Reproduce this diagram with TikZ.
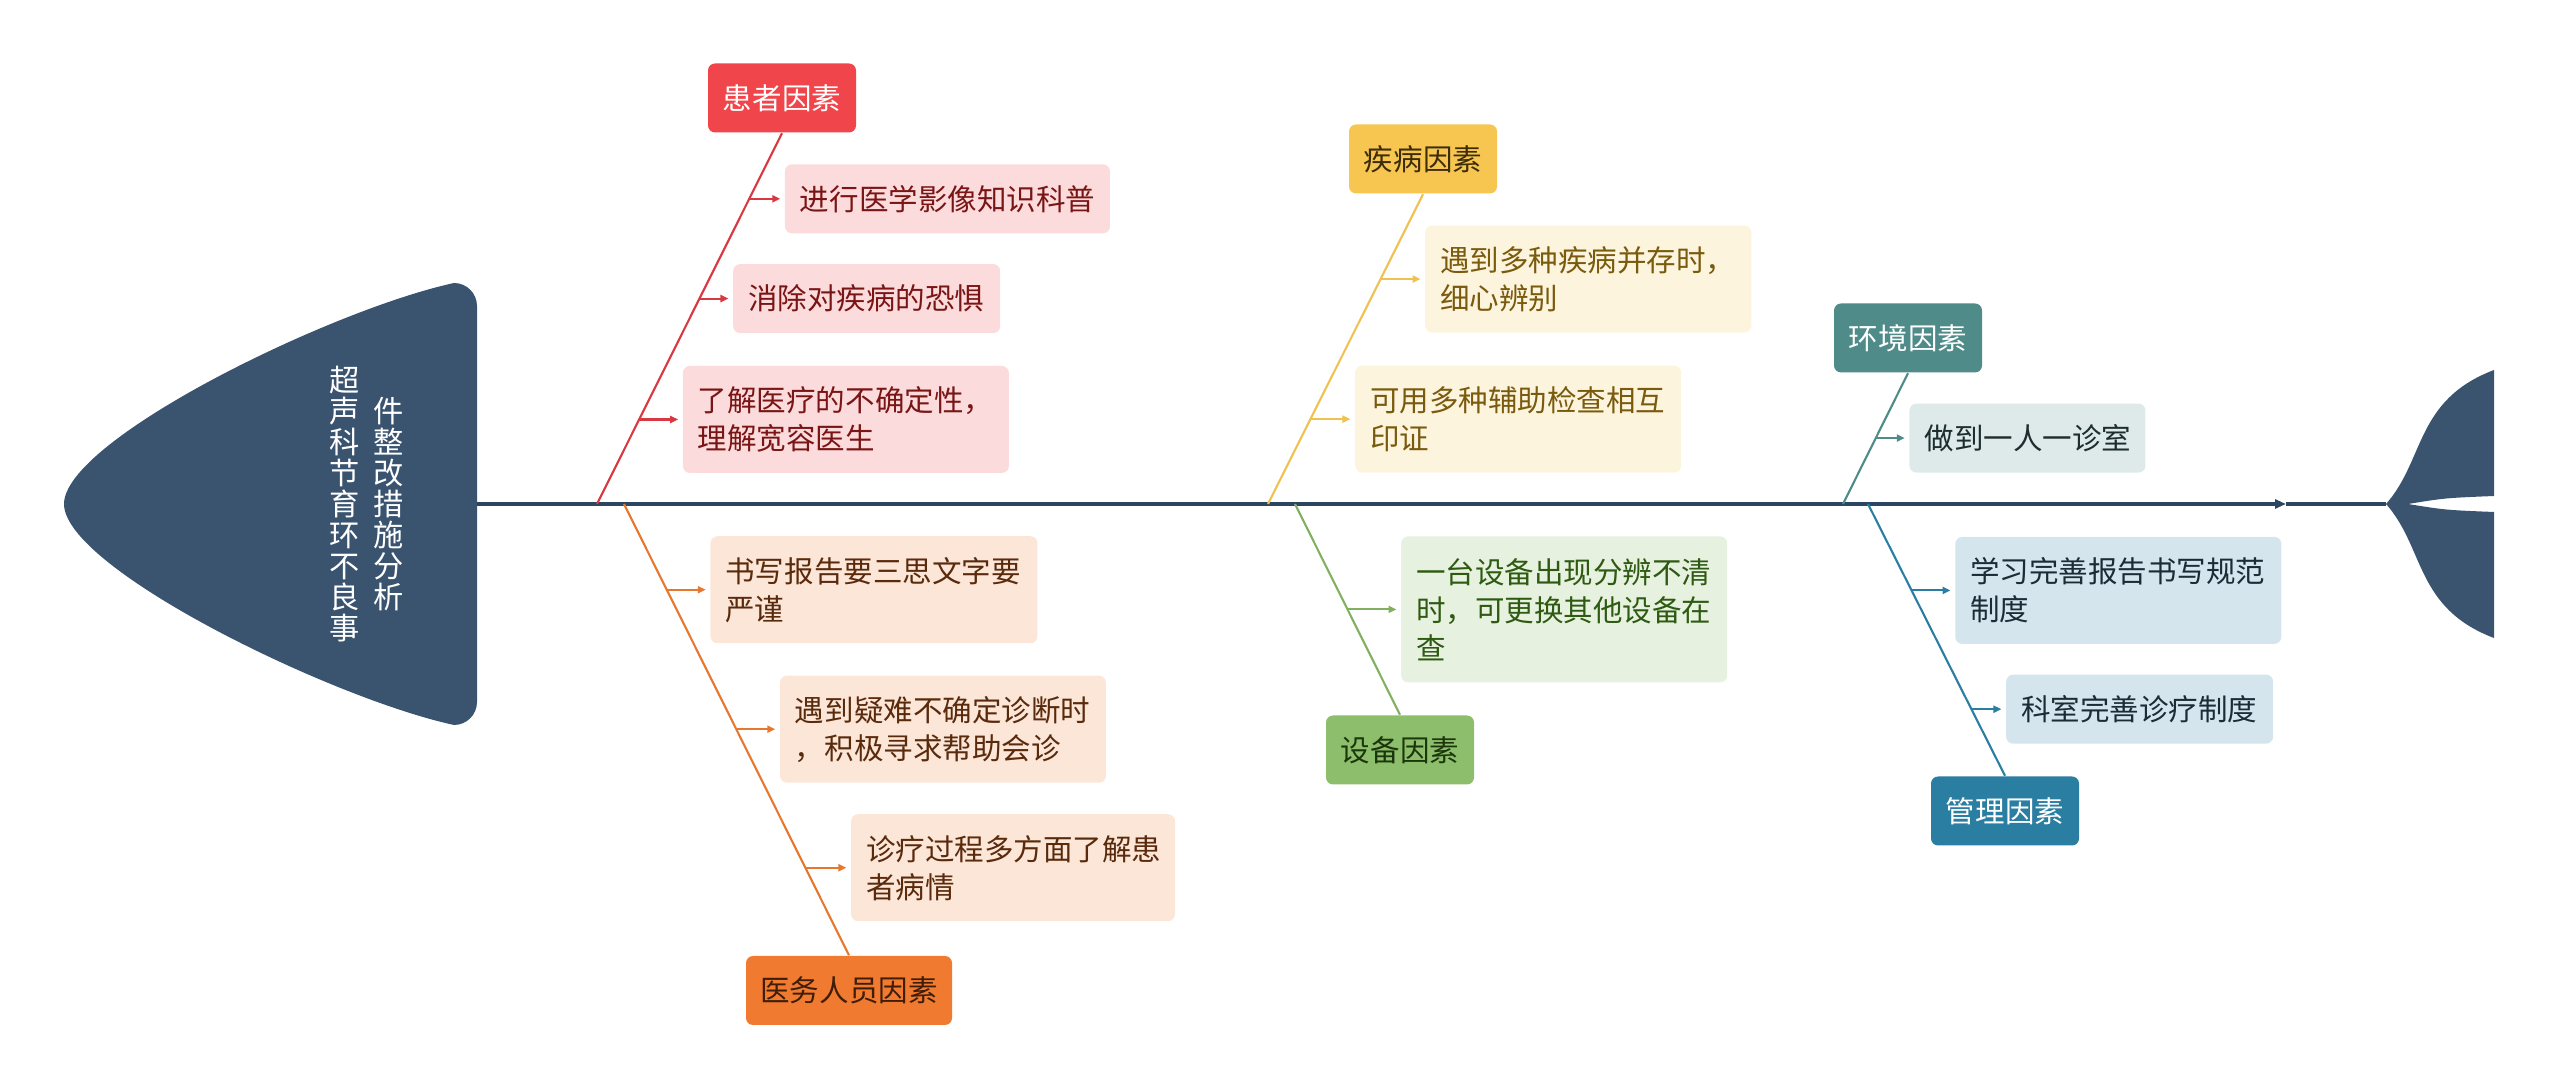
\documentclass[tikz,border=0pt]{standalone}
\usepackage{fontspec}
\setmainfont{Noto Sans CJK SC}
\usetikzlibrary{arrows.meta,positioning,calc}

\definecolor{fishBlue}{HTML}{3A5470}
\definecolor{spineBlue}{HTML}{2C4560}
\definecolor{patRed}{HTML}{F0464B}
\definecolor{patLine}{HTML}{D8383F}
\definecolor{patFill}{HTML}{FCDBDC}
\definecolor{patText}{HTML}{7A1515}
\definecolor{staffOrange}{HTML}{F07A30}
\definecolor{staffLine}{HTML}{E5782E}
\definecolor{staffFill}{HTML}{FCE6D8}
\definecolor{staffText}{HTML}{5A2A0C}
\definecolor{disYellow}{HTML}{F7C651}
\definecolor{disLine}{HTML}{F0C050}
\definecolor{disFill}{HTML}{FDF4DD}
\definecolor{disText}{HTML}{7A5B0E}
\definecolor{equGreen}{HTML}{8DBE6B}
\definecolor{equLine}{HTML}{82B061}
\definecolor{equFill}{HTML}{E7F1DF}
\definecolor{equText}{HTML}{2E5A12}
\definecolor{envTeal}{HTML}{4E8B89}
\definecolor{envFill}{HTML}{DDEAE9}
\definecolor{envText}{HTML}{1E2E2E}
\definecolor{mgtBlue}{HTML}{2A7EA1}
\definecolor{mgtFill}{HTML}{D4E5EE}
\definecolor{mgtText}{HTML}{1C2B35}

\newcommand{\leafFont}{\fontsize{8.4}{10.8}\selectfont}
\newcommand{\headFont}{\fontsize{8.6}{8.85}\selectfont}

\begin{document}
\begin{tikzpicture}[
        spineLine/.style={
            draw=spineBlue,
            line width=1pt
        },
        factorBox/.style={
            rounded corners=0.07cm,
            minimum width=1.48cm,
            minimum height=0.69cm,
            inner sep=0pt,
            font=\leafFont
        },
        leafBox/.style={
            rounded corners=0.07cm,
            align=left,
            inner xsep=0.15cm,
            inner ysep=0pt,
            minimum height=0.69cm,
            font=\leafFont
        },
        twoLines/.style={minimum height=1.07cm},
        threeLines/.style={minimum height=1.46cm},
        boneLine/.style={line width=0.6pt},
        leafArrow/.style={
            line width=0.6pt,
            -{Triangle[length=0.8mm, width=0.7mm]},
            shorten >=0.04cm
        },
        patLeaf/.style={leafBox, fill=patFill, text=patText},
        staffLeaf/.style={leafBox, fill=staffFill, text=staffText},
        disLeaf/.style={leafBox, fill=disFill, text=disText},
        equLeaf/.style={leafBox, fill=equFill, text=equText},
        envLeaf/.style={leafBox, fill=envFill, text=envText},
        mgtLeaf/.style={leafBox, fill=mgtFill, text=mgtText}
    ]

        \useasboundingbox (0,0) rectangle (25.6,10.88);

        % Fish head and tail
        \fill[fishBlue]
            (4.54,8.05) .. controls (3.30,7.78) and (0.64,6.48) .. (0.64,5.84)
            .. controls (0.64,5.20) and (3.30,3.90) .. (4.54,3.63)
            arc[start angle=-90, end angle=0, radius=0.23] -- (4.77,7.82)
            arc[start angle=0, end angle=90, radius=0.23] -- cycle;

        \fill[fishBlue]
            (23.86,5.84) .. controls (24.25,6.28) and (24.15,6.88) .. (24.94,7.18)
            -- (24.94,5.92) .. controls (24.45,5.90) .. (24.08,5.84)
            .. controls (24.45,5.78) .. (24.94,5.76)
            -- (24.94,4.50) .. controls (24.15,4.80) and (24.25,5.40) .. (23.86,5.84)
            -- cycle;

        \node[text=white, font=\headFont, align=center, inner sep=0pt] (headA) at (3.45,5.84)
            {超\\声\\科\\节\\育\\环\\不\\良\\事};
        \node[text=white, font=\headFont, align=center, inner sep=0pt] (headB) at (3.89,5.84)
            {件\\整\\改\\措\\施\\分\\析};

        % Spine
        \coordinate (headR) at (4.77,5.84);
        \coordinate (spArrow) at (22.86,5.84);
        \coordinate (tailL) at (23.86,5.84);
        \draw[spineLine, -{Triangle[length=1.1mm, width=0.9mm]}] (headR) -- (spArrow);
        \draw[spineLine] (spArrow) -- (tailL);

        % Bone points on the spine
        \coordinate (rSp) at (5.97,5.84);
        \coordinate (oSp) at (6.24,5.84);
        \coordinate (ySp) at (12.68,5.84);
        \coordinate (gSp) at (12.95,5.84);
        \coordinate (tSp) at (18.43,5.84);
        \coordinate (mSp) at (18.68,5.84);

        % Factor labels
        \node[factorBox, fill=patRed, text=white] (pat) at (7.82,9.90) {患者因素};
        \node[factorBox, fill=staffOrange, text=staffText!70!black, minimum width=2.06cm] (staff) at (8.49,0.975) {医务人员因素};
        \node[factorBox, fill=disYellow, text=disText!50!black] (dis) at (14.23,9.29) {疾病因素};
        \node[factorBox, fill=equGreen, text=equText!60!black] (equ) at (14.00,3.38) {设备因素};
        \node[factorBox, fill=envTeal, text=white] (env) at (19.08,7.50) {环境因素};
        \node[factorBox, fill=mgtBlue, text=white] (mgt) at (20.05,2.77) {管理因素};

        % Bones
        \draw[boneLine, patLine] (pat.south) -- (rSp);
        \draw[boneLine, staffLine] (oSp) -- (staff.north);
        \draw[boneLine, disLine] (dis.south) -- (ySp);
        \draw[boneLine, equLine] (gSp) -- (equ.north);
        \draw[boneLine, envTeal] (env.south) -- (tSp);
        \draw[boneLine, mgtBlue] (mSp) -- (mgt.north);

        % Patient causes
        \coordinate (r1a) at ($(pat.south)!0.177!(rSp)$);
        \coordinate (r2a) at ($(pat.south)!0.446!(rSp)$);
        \coordinate (r3a) at ($(pat.south)!0.772!(rSp)$);
        \node[patLeaf, right=0.35cm of r1a, text width=2.95cm] (r1) {进行医学影像知识科普};
        \node[patLeaf, right=0.33cm of r2a, text width=2.37cm] (r2) {消除对疾病的恐惧};
        \node[patLeaf, twoLines, right=0.43cm of r3a, text width=2.96cm] (r3) {了解医疗的不确定性，\\理解宽容医生};
        \foreach \i in {1,2,3}
            \draw[leafArrow, patLine] (r\i a) -- (r\i.west);

        % Staff causes
        \coordinate (o1a) at ($(oSp)!0.190!(staff.north)$);
        \coordinate (o2a) at ($(oSp)!0.499!(staff.north)$);
        \coordinate (o3a) at ($(oSp)!0.806!(staff.north)$);
        \node[staffLeaf, twoLines, right=0.43cm of o1a, text width=2.97cm] (o1) {书写报告要三思文字要\\严谨};
        \node[staffLeaf, twoLines, right=0.43cm of o2a, text width=2.96cm] (o2) {遇到疑难不确定诊断时\\，积极寻求帮助会诊};
        \node[staffLeaf, twoLines, right=0.45cm of o3a, text width=2.94cm] (o3) {诊疗过程多方面了解患\\者病情};
        \foreach \i in {1,2,3}
            \draw[leafArrow, staffLine] (o\i a) -- (o\i.west);

        % Disease causes
        \coordinate (y1a) at ($(dis.south)!0.274!(ySp)$);
        \coordinate (y2a) at ($(dis.south)!0.726!(ySp)$);
        \node[disLeaf, twoLines, right=0.44cm of y1a, text width=2.96cm] (y1) {遇到多种疾病并存时，\\细心辨别};
        \node[disLeaf, twoLines, right=0.44cm of y2a, text width=2.96cm] (y2) {可用多种辅助检查相互\\印证};
        \foreach \i in {1,2}
            \draw[leafArrow, disLine] (y\i a) -- (y\i.west);

        % Equipment causes
        \coordinate (g1a) at ($(gSp)!0.5!(equ.north)$);
        \node[equLeaf, threeLines, right=0.53cm of g1a, text width=2.96cm] (g1) {一台设备出现分辨不清\\时，可更换其他设备在\\查};
        \draw[leafArrow, equLine] (g1a) -- (g1.west);

        % Environment causes
        \coordinate (t1a) at ($(env.south)!0.496!(tSp)$);
        \node[envLeaf, right=0.33cm of t1a, text width=2.06cm] (t1) {做到一人一诊室};
        \draw[leafArrow, envTeal] (t1a) -- (t1.west);

        % Management causes
        \coordinate (m1a) at ($(mSp)!0.318!(mgt.north)$);
        \coordinate (m2a) at ($(mSp)!0.755!(mgt.north)$);
        \node[mgtLeaf, twoLines, right=0.43cm of m1a, text width=2.96cm] (m1) {学习完善报告书写规范\\制度};
        \node[mgtLeaf, right=0.34cm of m2a, text width=2.37cm] (m2) {科室完善诊疗制度};
        \foreach \i in {1,2}
            \draw[leafArrow, mgtBlue] (m\i a) -- (m\i.west);

    \end{tikzpicture}
\end{document}
